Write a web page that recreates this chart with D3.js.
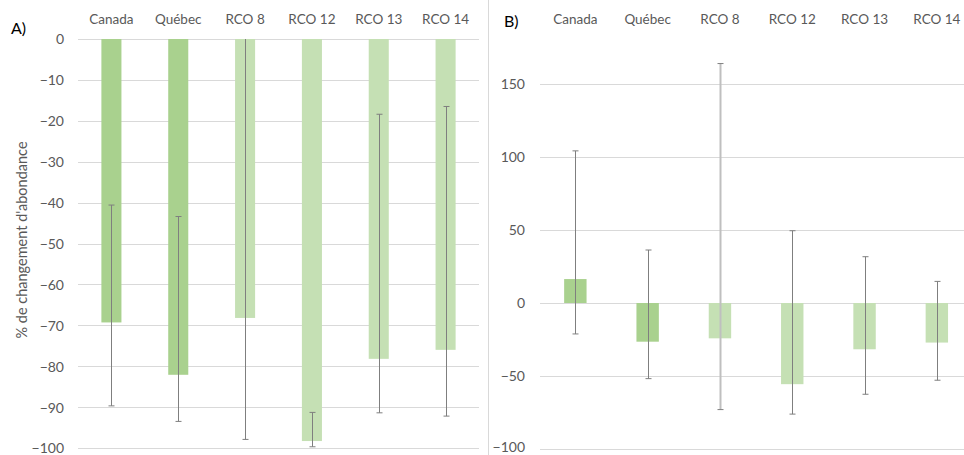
<!DOCTYPE html>
<html><head><meta charset="utf-8">
<script src="https://cdn.jsdelivr.net/npm/d3@7"></script>
<style>body{margin:0;background:#fff}svg{display:block}text{font-family:Lato,"Open Sans",sans-serif;fill:#595959}</style>
</head><body><svg id="c" width="964" height="455"></svg>
<script>
const categories = ["Canada","Québec","RCO 8","RCO 12","RCO 13","RCO 14"];
const highlight = [true,true,false,false,false,false];
const valuesA = [-69.3,-82.1,-68.2,-98.3,-78.2,-76.0];
const lowA = [-89.7,-93.5,-97.9,-99.7,-91.4,-92.2];
const highA = [-40.6,-43.4,0,-91.3,-18.4,-16.5];
const ticksA = [0,-10,-20,-30,-40,-50,-60,-70,-80,-90,-100];
const valuesB = [16.4,-26.5,-24.2,-55.6,-31.7,-27.1];
const lowB = [-21.2,-51.8,-73.0,-76.1,-62.5,-52.9];
const highB = [104.2,36.3,164.0,49.5,31.7,14.8];
const ticksB = [150,100,50,0,-50,-100];

const svg = d3.select("#c");
const darkGreen = "#a9d18e", lightGreen = "#c5e0b4", grid = "#d9d9d9", errCol = "#7f7f7f";

function panel(opt){
  const g = svg.append("g");
  const x = d3.scaleBand().domain(categories).range(opt.xr).paddingInner(0).paddingOuter(0);
  const y = d3.scaleLinear().domain(opt.dom).range(opt.yr);
  g.append("g").selectAll("line").data(opt.ticks).join("line")
    .attr("x1", opt.gx[0]).attr("x2", opt.gx[1])
    .attr("y1", d=>Math.round(y(d))+0.5).attr("y2", d=>Math.round(y(d))+0.5)
    .attr("stroke", grid).attr("stroke-width",1);
  const ax = g.append("g").attr("transform",`translate(${opt.lx},0)`)
    .call(d3.axisLeft(y).tickValues(opt.ticks).tickSize(0).tickPadding(0).tickFormat(d3.format("d")));
  ax.select(".domain").remove();
  ax.selectAll("text").style("font-size","14px").style("font-family","Lato,sans-serif").attr("fill","#595959")
    .attr("dy", d => (opt.light && d===-100) ? "0.2em" : "0.35em");
  g.append("g").selectAll("text").data(categories).join("text")
    .attr("x", d=>x(d)+x.bandwidth()/2).attr("y", 24)
    .attr("text-anchor","middle").style("font-size","13.5px").text(d=>d);
  const bw = x.bandwidth()*opt.bf;
  g.append("g").selectAll("rect").data(opt.vals).join("rect")
    .attr("x",(d,i)=>x(categories[i])+x.bandwidth()/2-bw/2)
    .attr("width",bw)
    .attr("y",d=>y(Math.max(0,d)))
    .attr("height",d=>Math.abs(y(d)-y(0)))
    .attr("fill",(d,i)=>highlight[i]?darkGreen:lightGreen);
  const eg = g.append("g");
  categories.forEach((c,i)=>{
    const cx = Math.round(x(c)+x.bandwidth()/2)+0.5;
    const special = opt.light && i===2;
    eg.append("line").attr("x1",cx).attr("x2",cx).attr("y1",y(opt.lo[i])).attr("y2",y(opt.hi[i]))
      .attr("stroke", special?"#bfbfbf":errCol).attr("stroke-width", special?2:1);
    [opt.lo[i],opt.hi[i]].forEach(v=>{
      if(v===0 && !opt.light) return;
      eg.append("line").attr("x1",cx-3).attr("x2",cx+3).attr("y1",y(v)).attr("y2",y(v))
        .attr("stroke",errCol).attr("stroke-width",1);
    });
  });
  svg.append("text").attr("x",opt.px).attr("y",opt.py).style("font-size","16px").style("fill","#000").text(opt.label);
}

panel({xr:[78,479], gx:[78,479], dom:[0,-100], yr:[39,448], ticks:ticksA, vals:valuesA, lo:lowA, hi:highA, lx:64, bf:0.3, label:"A)", px:11, py:34, light:false});
panel({xr:[539.2,973], gx:[540,964], dom:[0,-100], yr:[303,449], ticks:ticksB, vals:valuesB, lo:lowB, hi:highB, lx:525, bf:0.31, label:"B)", px:504, py:27, light:true});

svg.append("text").attr("transform","translate(27,240) rotate(-90)").attr("text-anchor","middle")
  .style("font-size","14.5px").text("% de changement d'abondance");
svg.append("line").attr("x1",488.5).attr("x2",488.5).attr("y1",0).attr("y2",455).attr("stroke","#d9d9d9");
</script></body></html>
